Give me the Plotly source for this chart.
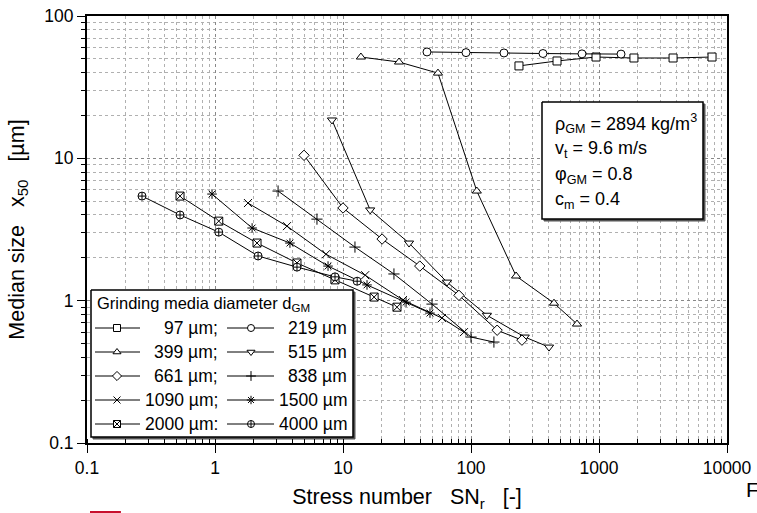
import plotly.graph_objects as go

# ---------------- data ----------------
labels = ["97 µm;", "219 µm", "399 µm;", "515 µm", "661 µm;", "838 µm",
          "1090 µm;", "1500 µm", "2000 µm:", "4000 µm"]

x_ticks = [0.1, 1, 10, 100, 1000, 10000]
x_tick_text = ["0.1", "1", "10", "100", "1000", "10000"]
y_ticks = [0.1, 1, 10, 100]
y_tick_text = ["0.1", "1", "10", "100"]

x_97 = [237, 470, 948, 1875, 3790, 7640]
y_97 = [44.6, 48.3, 51.5, 50.7, 50.7, 51.5]
x_219 = [45.3, 91.4, 181, 365, 736, 1486]
y_219 = [55.9, 55.3, 55.0, 54.5, 54.2, 54.0]
x_399 = [13.8, 27.4, 55.2, 111, 225, 445, 673]
y_399 = [51.5, 47.5, 39.7, 5.89, 1.49, 0.96, 0.685]
x_515 = [8.2, 16.3, 32.8, 64.9, 133, 263, 407]
y_515 = [18.6, 4.34, 2.54, 1.35, 0.79, 0.555, 0.472]
x_661 = [4.96, 10, 20.2, 39.8, 80.5, 160, 250]
y_661 = [10.5, 4.48, 2.71, 1.75, 1.09, 0.62, 0.528]
x_838 = [3.11, 6.26, 12.4, 25.0, 49.6, 100, 151]
y_838 = [5.89, 3.74, 2.38, 1.54, 0.946, 0.555, 0.512]
x_1090 = [1.81, 3.65, 7.36, 14.9, 29.4, 59.3, 88.1]
y_1090 = [4.85, 3.34, 2.12, 1.51, 1.01, 0.755, 0.601]
x_1500 = [0.948, 1.95, 3.85, 7.64, 15.4, 31.1, 47.8]
y_1500 = [5.61, 3.24, 2.54, 1.75, 1.29, 0.977, 0.818]
x_2000 = [0.533, 1.07, 2.13, 4.37, 8.66, 17.5, 26.4]
y_2000 = [5.43, 3.62, 2.54, 1.84, 1.40, 1.06, 0.90]
x_4000 = [0.269, 0.533, 1.07, 2.17, 4.37, 8.66, 12.9]
y_4000 = [5.43, 4.0, 3.03, 2.06, 1.72, 1.47, 1.37]

xs = [x_97, x_219, x_399, x_515, x_661, x_838, x_1090, x_1500, x_2000, x_4000]
ys = [y_97, y_219, y_399, y_515, y_661, y_838, y_1090, y_1500, y_2000, y_4000]

# marker style per series: (symbol, filled white?)
symbols = [("square", True), ("circle", True), ("triangle-up", True), ("triangle-down", True),
           ("diamond", True), ("cross-thin-open", False), ("x-thin-open", False),
           ("asterisk-open", False), ("square-x", True), ("circle-cross", True)]

FONT = "Arial, Liberation Sans, sans-serif"
fig = go.Figure()

for xv, yv, (sym, filled), lab in zip(xs, ys, symbols, labels):
    fig.add_trace(go.Scatter(
        x=xv, y=yv, mode="lines+markers", name=lab, showlegend=False,
        line=dict(color="black", width=1),
        marker=dict(symbol=sym, size=8, color="white" if filled else "black",
                    line=dict(color="black", width=1)),
    ))

# ---------- overlay axis in pixel units for legend / info box ----------
def box(x0, y0, x1, y1):
    fig.add_trace(go.Scatter(x=[x0 + 2, x1 + 2, x1 + 2, x0 + 2, x0 + 2],
                             y=[y0 + 2, y0 + 2, y1 + 2, y1 + 2, y0 + 2],
                             mode="lines", fill="toself", fillcolor="#555",
                             line=dict(color="#555", width=1), showlegend=False,
                             hoverinfo="skip", xaxis="x2", yaxis="y2"))
    fig.add_trace(go.Scatter(x=[x0, x1, x1, x0, x0], y=[y0, y0, y1, y1, y0],
                             mode="lines", fill="toself", fillcolor="white",
                             line=dict(color="black", width=1.5), showlegend=False,
                             hoverinfo="skip", xaxis="x2", yaxis="y2"))

box(91, 290, 353, 437)
box(542, 102, 703, 219)

rows = [328, 352, 376, 400, 424]
cols = [(95, 117, 140, 220), (227, 251, 274, 349)]
for i, ((sym, filled), lab) in enumerate(zip(symbols, labels)):
    r = rows[i // 2]
    l0, lm, l1, tx = cols[i % 2]
    fig.add_trace(go.Scatter(
        x=[l0, lm, l1], y=[r, r, r], mode="lines+markers", showlegend=False,
        hoverinfo="skip", xaxis="x2", yaxis="y2",
        line=dict(color="black", width=1),
        marker=dict(symbol=sym, size=7, opacity=[0, 1, 0],
                    color="white" if filled else "black",
                    line=dict(color="black", width=1)),
    ))
    fig.add_annotation(x=tx, y=r, xref="x2", yref="y2", text=lab, showarrow=False,
                       xanchor="right", yanchor="middle",
                       font=dict(family=FONT, size=17.5, color="black"))

fig.add_annotation(x=95, y=304, xref="x2", yref="y2",
                   text="Grinding media diameter d<sub>GM</sub>", showarrow=False,
                   xanchor="left", yanchor="middle",
                   font=dict(family=FONT, size=16.5, color="black"))

info = ["ρ<sub>GM</sub> = 2894 kg/m<sup>3</sup>", "v<sub>t</sub> = 9.6 m/s",
        "φ<sub>GM</sub> = 0.8", "c<sub>m</sub> = 0.4"]
for t, yy in zip(info, [123, 149, 175, 200]):
    fig.add_annotation(x=553, y=yy, xref="x2", yref="y2", text=t, showarrow=False,
                       xanchor="left", yanchor="middle",
                       font=dict(family=FONT, size=18, color="black"))

fig.add_annotation(x=1.027, y=-0.11, xref="paper", yref="paper", text="F",
                   showarrow=False, xanchor="left", yanchor="middle",
                   font=dict(family=FONT, size=21, color="black"))
fig.add_shape(type="line", xref="paper", yref="paper", x0=0.0047, x1=0.053,
              y0=-0.1616, y1=-0.1616, line=dict(color="#c8102e", width=2))

grid_minor = dict(dtick="D1", showgrid=True, gridcolor="#b0b0b0", griddash="dot",
                  gridwidth=1, ticklen=4, tickcolor="black")
fig.update_layout(
    width=757, height=513, margin=dict(l=87, r=30, t=16, b=70, autoexpand=False),
    paper_bgcolor="white", plot_bgcolor="white",
    font=dict(family=FONT, size=17, color="black"),
    xaxis=dict(type="log", range=[-1, 4], tickvals=x_ticks, ticktext=x_tick_text,
               automargin=False,
               showline=True, linecolor="black", linewidth=2, mirror=True,
               ticks="outside", ticklen=8, tickcolor="black",
               showgrid=True, gridcolor="#888", griddash="dot", gridwidth=1,
               minor=dict(ticks="inside", **grid_minor),
               tickfont=dict(size=17.5),
               title=dict(text="Stress number\u00a0\u00a0\u00a0SN<sub>r</sub>\u00a0\u00a0\u00a0[-]",
                          font=dict(size=21.5), standoff=12),
               zeroline=False),
    yaxis=dict(type="log", range=[-1, 2], tickvals=y_ticks, ticktext=y_tick_text,
               automargin=False,
               showline=True, linecolor="black", linewidth=2, mirror=True,
               ticks="outside", ticklen=8, tickcolor="black",
               showgrid=True, gridcolor="#888", griddash="dot", gridwidth=1,
               minor=dict(ticks="outside", **grid_minor),
               tickfont=dict(size=17.5),
               title=dict(text="Median size\u00a0\u00a0\u00a0x<sub>50</sub>\u00a0\u00a0\u00a0[µm]",
                          font=dict(size=21.5), standoff=14),
               zeroline=False),
    xaxis2=dict(overlaying="x", range=[87, 727], visible=False, fixedrange=True),
    yaxis2=dict(overlaying="y", range=[443, 16], visible=False, fixedrange=True),
)

fig.write_html("out.html")
